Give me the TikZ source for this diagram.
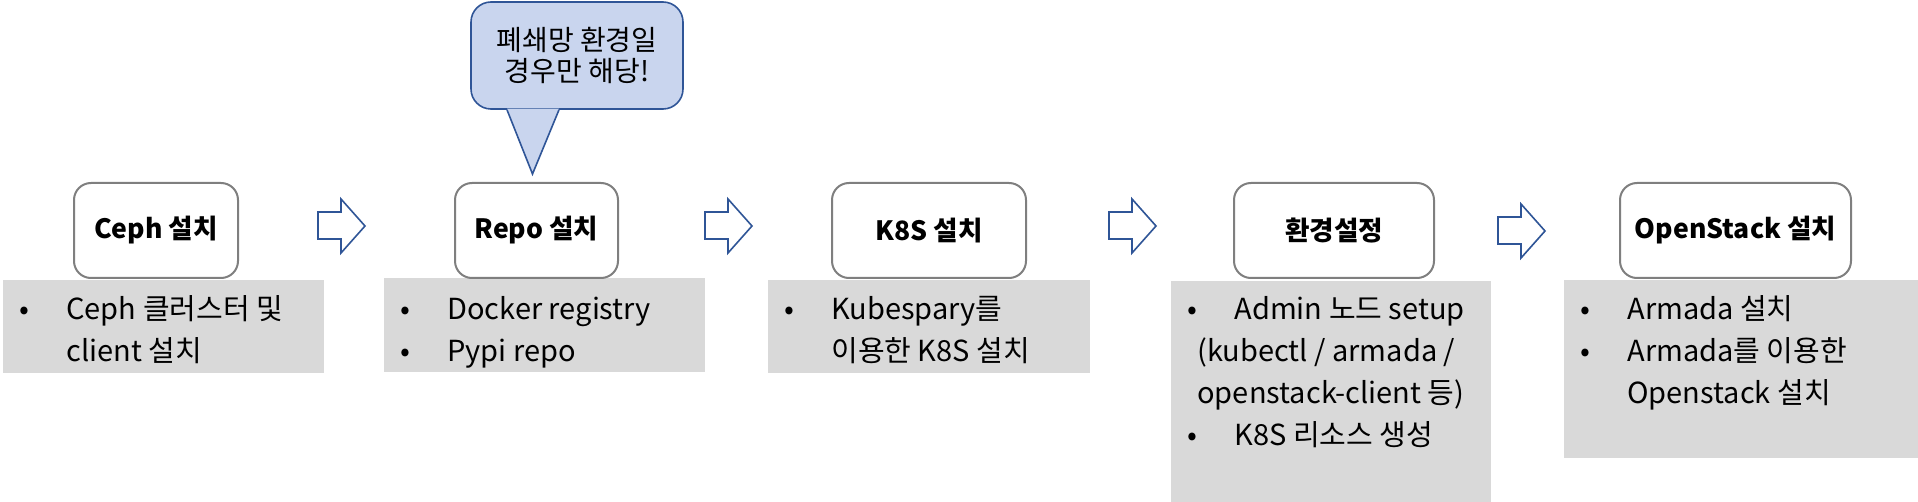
\documentclass[tikz,border=0pt]{standalone}
\usepackage{fontspec}
\setmainfont{Noto Sans CJK KR}
\definecolor{notegray}{HTML}{D9D9D9}
\definecolor{boxline}{HTML}{7F7F7F}
\definecolor{calloutfill}{HTML}{C9D5EE}
\definecolor{arrowblue}{HTML}{2F5597}
\newcommand{\bul}{\strut\makebox[23.5pt][l]{•}}
\tikzset{
  stage/.style={draw=boxline, line width=1pt, fill=white, rounded corners=8.5pt,
    minimum height=47.5pt, inner sep=0pt, font=\fontsize{13.3}{16}\selectfont\bfseries},
  note/.style={fill=notegray, inner sep=0pt},
  notetext/.style={anchor=north west, align=left, inner sep=0pt,
    font=\fontsize{14.5}{21}\selectfont},
  callout/.style={draw=arrowblue, line width=0.8pt, fill=calloutfill, rounded corners=10pt,
    align=center, inner sep=0pt, font=\fontsize{14}{15.5}\selectfont},
  blockarrow/.style={draw=arrowblue, line width=0.8pt, fill=white},
}

\begin{document}
\begin{tikzpicture}[x=0.5pt,y=-0.5pt]
  \useasboundingbox (0,0) rectangle (1918,502);
  % grey notes under the steps
  \node[note, minimum width=160.5pt, minimum height=46.5pt] (cephnote) at (163.5,326.5) {};
  \node[note, minimum width=160.5pt, minimum height=47pt]   (reponote) at (544.5,325) {};
  \node[note, minimum width=161pt,   minimum height=46.5pt] (k8snote)  at (929,326.5) {};
  \node[note, minimum width=160pt,   minimum height=110.5pt] (envnote) at (1331,391.5) {};
  \node[note, minimum width=177pt,   minimum height=89pt]   (ostacknote) at (1741,369) {};
  \node[notetext] (cephtext) at (19,290) {\bul Ceph 클러스터 및\\\hspace*{23.5pt}client 설치};
  \node[notetext] (repotext) at (400,290) {\bul Docker registry\\\bul Pypi repo};
  \node[notetext] (k8stext)  at (784,290) {\bul Kubespary를\\\hspace*{23.5pt}이용한 K8S 설치};
  \node[notetext] (envtext)  at (1187,290) {\bul Admin 노드 setup\\\hspace*{5pt}(kubectl / armada /\\\hspace*{5pt}openstack-client 등)\\\bul K8S 리소스 생성};
  \node[notetext] (ostacktext) at (1580,290) {\bul Armada 설치\\\bul Armada를 이용한\\\hspace*{23.5pt}Openstack 설치};
  % steps
  \node[stage, minimum width=82pt]    (ceph)   at (156,230.5) {Ceph 설치};
  \node[stage, minimum width=81.5pt]  (repo)   at (536.5,230.5) {Repo 설치};
  \node[stage, minimum width=97pt]    (k8s)    at (929,230.5) {K8S 설치};
  \node[stage, minimum width=100pt]   (env)    at (1334,230.5) {환경설정};
  \node[stage, minimum width=115.5pt] (ostack) at (1735.5,230.5) {OpenStack 설치};
  % block arrows
  \foreach \x/\d in {318/0,705/0,1109/0,1498/5}
    \draw[blockarrow] (\x,212+\d) -- (\x+23,212+\d) -- (\x+23,199+\d) -- (\x+47,226+\d)
      -- (\x+23,253+\d) -- (\x+23,239+\d) -- (\x,239+\d) -- cycle;
  % callout
  \node[callout, minimum width=106pt, minimum height=53.5pt] (callout) at (577,55.5) {폐쇄망 환경일\\경우만 해당!};
  \coordinate (tip) at ([xshift=-2pt,yshift=4pt]repo.north);
  \fill[calloutfill] ([xshift=-35pt,yshift=0.6pt]callout.south) -- (tip) -- ([xshift=-9pt,yshift=0.6pt]callout.south) -- cycle;
  \draw[arrowblue, line width=0.8pt, line join=miter] ([xshift=-35pt]callout.south) -- (tip) -- ([xshift=-9pt]callout.south);
\end{tikzpicture}
\end{document}
